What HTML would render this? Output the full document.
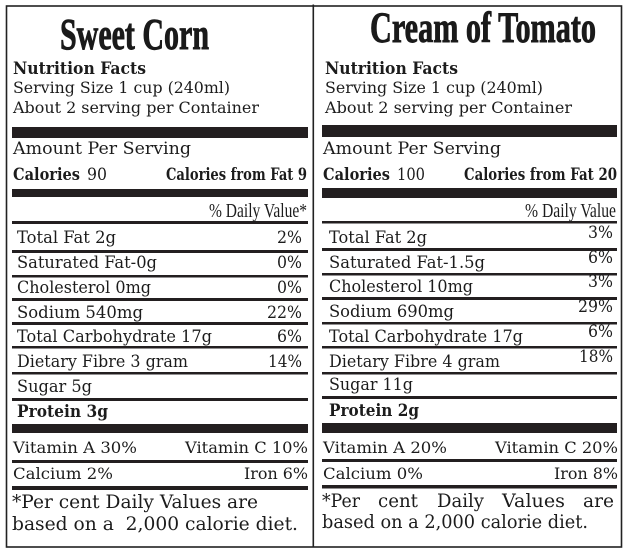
<!DOCTYPE html>
<html><head><meta charset="utf-8"><style>
html,body{margin:0;padding:0;background:#fff;width:631px;height:560px;overflow:hidden}
svg{display:block}
.t{font-family:"DejaVu Serif","Liberation Serif",serif;fill:#1c1c1c}
.b{font-weight:bold}
.h{font-family:"Liberation Serif",serif;font-weight:bold;fill:#1a1a1a;stroke:#1a1a1a;stroke-width:0.9}
.d{font-family:"Liberation Serif",serif;fill:#1c1c1c}
</style></head><body>
<svg width="631" height="560" viewBox="0 0 631 560" xmlns="http://www.w3.org/2000/svg">
<rect width="631" height="560" fill="#fff"/>
<g fill="none" stroke="#222" stroke-width="1.6">
<rect x="6.5" y="6" width="615" height="541"/>
<line x1="313.3" y1="4.5" x2="313.3" y2="547"/>
</g>
<g fill="#231f20">
<rect x="12" y="127" width="296" height="11"/>
<rect x="12" y="189" width="296" height="8"/>
<rect x="12" y="221" width="296" height="3"/>
<rect x="12" y="250" width="296" height="3"/>
<rect x="12" y="275" width="296" height="2.5"/>
<rect x="12" y="298" width="296" height="3"/>
<rect x="12" y="322" width="296" height="3"/>
<rect x="12" y="346" width="296" height="2.5"/>
<rect x="12" y="372" width="296" height="2.5"/>
<rect x="12" y="398" width="296" height="3"/>
<rect x="12" y="424" width="296" height="9"/>
<rect x="12" y="460" width="296" height="3"/>
<rect x="12" y="486" width="296" height="4"/>
<rect x="322" y="125" width="295" height="12"/>
<rect x="322" y="188" width="295" height="10"/>
<rect x="322" y="221" width="295" height="2.5"/>
<rect x="322" y="248" width="295" height="3"/>
<rect x="322" y="273" width="295" height="2.5"/>
<rect x="322" y="297" width="295" height="3"/>
<rect x="322" y="322" width="295" height="2.5"/>
<rect x="322" y="346" width="295" height="2.5"/>
<rect x="322" y="372" width="295" height="2.5"/>
<rect x="322" y="396" width="295" height="3"/>
<rect x="322" y="423" width="295" height="10"/>
<rect x="322" y="459" width="295" height="3"/>
<rect x="322" y="485" width="295" height="3.5"/>
</g>

<text class="h" x="60" y="49" font-size="44" textLength="149" lengthAdjust="spacingAndGlyphs">Sweet Corn</text>
<text class="t b" x="13" y="74" font-size="16.5" textLength="133" lengthAdjust="spacingAndGlyphs">Nutrition Facts</text>
<text class="t" x="13" y="93" font-size="15.5" textLength="217" lengthAdjust="spacingAndGlyphs">Serving Size 1 cup (240ml)</text>
<text class="t" x="13" y="113" font-size="15.5" textLength="246" lengthAdjust="spacingAndGlyphs">About 2 serving per Container</text>
<text class="t" x="13" y="154" font-size="17" textLength="178" lengthAdjust="spacingAndGlyphs">Amount Per Serving</text>
<text class="t b" x="13" y="180" font-size="16.5" textLength="67" lengthAdjust="spacingAndGlyphs">Calories</text>
<text class="t" x="87" y="180" font-size="16.5" textLength="20" lengthAdjust="spacingAndGlyphs">90</text>
<text class="t b" x="166" y="180" font-size="16.5" textLength="141" lengthAdjust="spacingAndGlyphs">Calories from Fat 9</text>
<text class="d" x="209" y="217" font-size="20" textLength="98" lengthAdjust="spacingAndGlyphs">% Daily Value*</text>

<text class="t" x="17" y="243" font-size="17" textLength="99" lengthAdjust="spacingAndGlyphs">Total Fat 2g</text>
<text class="t" x="277" y="243" font-size="17" textLength="25" lengthAdjust="spacingAndGlyphs">2%</text>
<text class="t" x="17" y="268" font-size="17" textLength="140" lengthAdjust="spacingAndGlyphs">Saturated Fat-0g</text>
<text class="t" x="277" y="268" font-size="17" textLength="25" lengthAdjust="spacingAndGlyphs">0%</text>
<text class="t" x="17" y="293" font-size="17" textLength="134" lengthAdjust="spacingAndGlyphs">Cholesterol 0mg</text>
<text class="t" x="277" y="293" font-size="17" textLength="25" lengthAdjust="spacingAndGlyphs">0%</text>
<text class="t" x="17" y="318" font-size="17" textLength="126" lengthAdjust="spacingAndGlyphs">Sodium 540mg</text>
<text class="t" x="267" y="318" font-size="17" textLength="35" lengthAdjust="spacingAndGlyphs">22%</text>
<text class="t" x="17" y="342" font-size="17" textLength="195" lengthAdjust="spacingAndGlyphs">Total Carbohydrate 17g</text>
<text class="t" x="277" y="342" font-size="17" textLength="25" lengthAdjust="spacingAndGlyphs">6%</text>
<text class="t" x="17" y="367" font-size="17" textLength="171" lengthAdjust="spacingAndGlyphs">Dietary Fibre 3 gram</text>
<text class="t" x="268" y="367" font-size="17" textLength="34" lengthAdjust="spacingAndGlyphs">14%</text>
<text class="t" x="17" y="392" font-size="17" textLength="75" lengthAdjust="spacingAndGlyphs">Sugar 5g</text>
<text class="t b" x="17" y="417" font-size="17" textLength="91" lengthAdjust="spacingAndGlyphs">Protein 3g</text>

<text class="t" x="13" y="453" font-size="15.5" textLength="124" lengthAdjust="spacingAndGlyphs">Vitamin A 30%</text>
<text class="t" x="185" y="453" font-size="15.5" textLength="123" lengthAdjust="spacingAndGlyphs">Vitamin C 10%</text>
<text class="t" x="13" y="479" font-size="15.5" textLength="100" lengthAdjust="spacingAndGlyphs">Calcium 2%</text>
<text class="t" x="244" y="479" font-size="15.5" textLength="64" lengthAdjust="spacingAndGlyphs">Iron 6%</text>
<text class="t" x="12" y="508" font-size="18.5" textLength="246" lengthAdjust="spacingAndGlyphs">*Per cent Daily Values are</text>
<text class="t" x="12" y="530" font-size="18.5" textLength="286" lengthAdjust="spacingAndGlyphs" xml:space="preserve">based on a  2,000 calorie diet.</text>

<text class="h" x="370" y="42" font-size="43" textLength="226" lengthAdjust="spacingAndGlyphs">Cream of Tomato</text>
<text class="t b" x="325" y="74" font-size="16.5" textLength="133" lengthAdjust="spacingAndGlyphs">Nutrition Facts</text>
<text class="t" x="325" y="93" font-size="15.5" textLength="218" lengthAdjust="spacingAndGlyphs">Serving Size 1 cup (240ml)</text>
<text class="t" x="325" y="113" font-size="15.5" textLength="247" lengthAdjust="spacingAndGlyphs">About 2 serving per Container</text>
<text class="t" x="323" y="154" font-size="17" textLength="178" lengthAdjust="spacingAndGlyphs">Amount Per Serving</text>
<text class="t b" x="323" y="180" font-size="16.5" textLength="67" lengthAdjust="spacingAndGlyphs">Calories</text>
<text class="t" x="397" y="180" font-size="16.5" textLength="28" lengthAdjust="spacingAndGlyphs">100</text>
<text class="t b" x="464" y="180" font-size="16.5" textLength="153" lengthAdjust="spacingAndGlyphs">Calories from Fat 20</text>
<text class="d" x="525" y="217" font-size="20" textLength="91" lengthAdjust="spacingAndGlyphs">% Daily Value</text>

<text class="t" x="329" y="243" font-size="17" textLength="98" lengthAdjust="spacingAndGlyphs">Total Fat 2g</text>
<text class="t" x="588" y="238" font-size="17" textLength="25" lengthAdjust="spacingAndGlyphs">3%</text>
<text class="t" x="329" y="268" font-size="17" textLength="156" lengthAdjust="spacingAndGlyphs">Saturated Fat-1.5g</text>
<text class="t" x="588" y="263" font-size="17" textLength="25" lengthAdjust="spacingAndGlyphs">6%</text>
<text class="t" x="329" y="292" font-size="17" textLength="144" lengthAdjust="spacingAndGlyphs">Cholesterol 10mg</text>
<text class="t" x="588" y="287" font-size="17" textLength="25" lengthAdjust="spacingAndGlyphs">3%</text>
<text class="t" x="329" y="317" font-size="17" textLength="125" lengthAdjust="spacingAndGlyphs">Sodium 690mg</text>
<text class="t" x="578" y="312" font-size="17" textLength="35" lengthAdjust="spacingAndGlyphs">29%</text>
<text class="t" x="329" y="342" font-size="17" textLength="194" lengthAdjust="spacingAndGlyphs">Total Carbohydrate 17g</text>
<text class="t" x="588" y="337" font-size="17" textLength="25" lengthAdjust="spacingAndGlyphs">6%</text>
<text class="t" x="329" y="367" font-size="17" textLength="171" lengthAdjust="spacingAndGlyphs">Dietary Fibre 4 gram</text>
<text class="t" x="579" y="362" font-size="17" textLength="34" lengthAdjust="spacingAndGlyphs">18%</text>
<text class="t" x="329" y="390" font-size="17" textLength="84" lengthAdjust="spacingAndGlyphs">Sugar 11g</text>
<text class="t b" x="329" y="416" font-size="17" textLength="90" lengthAdjust="spacingAndGlyphs">Protein 2g</text>

<text class="t" x="323" y="453" font-size="15.5" textLength="124" lengthAdjust="spacingAndGlyphs">Vitamin A 20%</text>
<text class="t" x="495" y="453" font-size="15.5" textLength="123" lengthAdjust="spacingAndGlyphs">Vitamin C 20%</text>
<text class="t" x="323" y="479" font-size="15.5" textLength="100" lengthAdjust="spacingAndGlyphs">Calcium 0%</text>
<text class="t" x="554" y="479" font-size="15.5" textLength="64" lengthAdjust="spacingAndGlyphs">Iron 8%</text>
<text class="t" x="322" y="507" font-size="18.5" textLength="38" lengthAdjust="spacingAndGlyphs">*Per</text>
<text class="t" x="378" y="507" font-size="18.5" textLength="40" lengthAdjust="spacingAndGlyphs">cent</text>
<text class="t" x="437" y="507" font-size="18.5" textLength="47" lengthAdjust="spacingAndGlyphs">Daily</text>
<text class="t" x="502" y="507" font-size="18.5" textLength="63" lengthAdjust="spacingAndGlyphs">Values</text>
<text class="t" x="583" y="507" font-size="18.5" textLength="31" lengthAdjust="spacingAndGlyphs">are</text>
<text class="t" x="322" y="528" font-size="18.5" textLength="266" lengthAdjust="spacingAndGlyphs">based on a 2,000 calorie diet.</text>
</svg>
</body></html>
